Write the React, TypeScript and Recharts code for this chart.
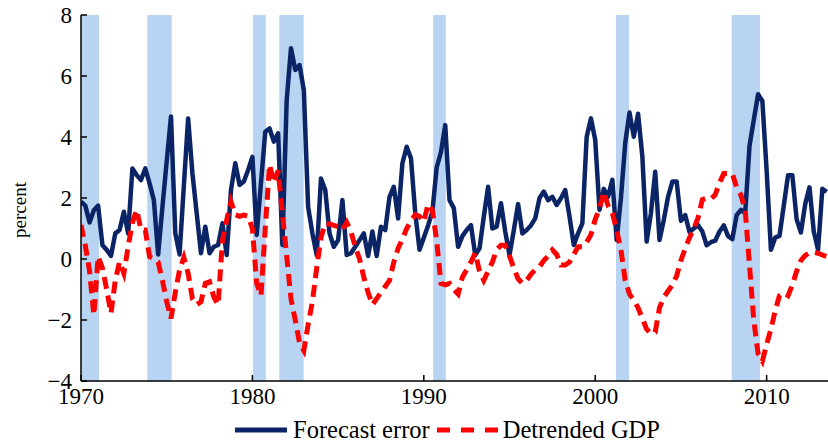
import React from 'react';
import { ComposedChart, Line, XAxis, YAxis, ReferenceArea, Legend } from 'recharts';

const startYear = 1970;

// Quarterly values, 1970Q1 .. 2013Q3
const forecastError = [
  1.88, 1.75, 1.2, 1.6,
  1.75, 0.45, 0.3, 0.1,
  0.84, 0.95, 1.55, 0.84,
  2.97, 2.75, 2.59, 2.97,
  2.48, 1.93, 0.15, 1.7,
  3.2, 4.67, 0.85, 0.15,
  2.4, 4.61, 2.81, 1.5,
  0.19, 1.06, 0.19, 0.4,
  0.46, 1.17, 0.13, 2.26,
  3.14, 2.43, 2.54, 2.92,
  3.35, 0.79, 2.5, 4.17,
  4.28, 3.85, 4.12, 0.46,
  5.21, 6.91, 6.2, 6.36,
  5.54, 1.71, 0.84, 0.13,
  2.64, 2.26, 0.84, 0.4,
  0.62, 1.93, 0.13, 0.19,
  0.4, 0.62, 0.84, 0.1,
  0.9, 0.1, 1.06, 0.95,
  2.04, 2.37, 1.33, 3.14,
  3.68, 3.3, 1.5, 0.3,
  0.7, 1.1, 1.55, 3.0,
  3.5, 4.39, 1.93, 1.67,
  0.4, 0.75, 0.95, 1.11,
  0.13, 0.35, 1.39, 2.37,
  1.0, 1.06, 1.83, 0.9,
  0.13, 0.95, 1.8, 0.84,
  0.95, 1.1, 1.33, 2.0,
  2.21, 1.93, 2.04, 1.77,
  1.99, 2.26, 1.39, 0.46,
  0.84, 1.17, 4.0, 4.61,
  3.9, 1.61, 2.3, 2.04,
  2.6, 0.62, 2.0, 3.8,
  4.8, 4.01, 4.76, 3.36,
  0.57, 1.5, 2.86, 0.62,
  1.28, 2.04, 2.54, 2.54,
  1.25, 1.44, 0.89, 1.0,
  1.11, 0.9, 0.45, 0.55,
  0.6, 0.9, 1.1, 0.75,
  0.65, 1.44, 1.61, 1.5,
  3.7, 4.56, 5.4, 5.18,
  2.9, 0.3, 0.7, 0.76,
  1.75, 2.75, 2.75, 1.3,
  0.87, 1.8, 2.35, 0.9,
  0.3, 2.3, 2.2,
];

const detrendedGDP = [
  1.11, 0.45, -0.4, -1.84,
  0.08, -0.3, -1.0, -1.78,
  -0.7, -0.09, -0.47, 0.4,
  1.2, 1.61, 0.95, 0.95,
  0.08, 0.0, -0.1, -0.7,
  -1.4, -1.95, -1.1, -0.36,
  0.05, -0.47, -1.3, -1.5,
  -1.4, -0.8, -0.75, -1.25,
  -1.5, 0.6, 1.28, 1.88,
  1.45, 1.4, 1.44, 1.4,
  1.0, -0.8, -1.2, 1.0,
  3.1, 2.5, 2.9, 1.5,
  0.1, -1.3, -2.0, -2.75,
  -3.0, -2.15, -1.4, -0.3,
  0.7, 1.17, 1.15, 1.1,
  1.06, 0.95, 1.2, 0.9,
  0.4, 0.0, -0.6, -1.1,
  -1.5, -1.3, -1.1, -0.9,
  -0.7, -0.1, 0.35, 0.65,
  1.0, 1.25, 1.45, 1.4,
  1.22, 1.8, 1.6, 0.6,
  -0.8, -0.85, -0.8, -1.0,
  -1.15, -0.6, -0.35, -0.1,
  0.2, -0.4, -0.7, -0.4,
  -0.1, 0.3, 0.45, 0.45,
  0.1, -0.3, -0.65, -0.8,
  -0.7, -0.5, -0.35, -0.25,
  -0.05, 0.1, 0.3, 0.15,
  -0.2, -0.2, -0.1, 0.15,
  0.4, 0.4, 0.55, 0.8,
  1.3, 1.65, 2.2, 1.75,
  1.5, 0.95, 0.3, -0.7,
  -1.15, -1.35, -1.6, -1.95,
  -2.3, -2.45, -2.4, -1.6,
  -1.25, -1.05, -0.85, -0.55,
  -0.05, 0.35, 0.7, 1.0,
  1.35, 1.95, 2.0, 1.97,
  2.1, 2.5, 2.8, 2.8,
  2.8, 2.35, 2.1, 1.6,
  -0.2, -2.0, -3.1, -3.35,
  -2.8, -2.3, -1.7, -1.2,
  -1.1, -1.2, -0.85, -0.4,
  -0.05, 0.12, 0.2, 0.22,
  0.19, 0.13, 0.08,
];

const xTicks = [1970, 1980, 1990, 2000, 2010];
const yTicks = [-4, -2, 0, 2, 4, 6, 8];
const recessionStarts = [1970, 1973.87, 1980.03, 1981.57, 1990.55, 2001.21, 2007.96];
const recessionEnds = [1971.05, 1975.29, 1980.78, 1982.99, 1991.28, 2001.97, 2009.61];

const NAVY = '#0b2466';
const RED = '#ff0000';
const BAND = '#b9d3f3';
const FONT = '"Liberation Serif", "Times New Roman", serif';

const data = forecastError.map((v, i) => ({
  t: startYear + i / 4,
  fe: v,
  gdp: detrendedGDP[i],
}));

const fmtY = (v: number) => (v < 0 ? '\u2212' + Math.abs(v) : String(v));

const renderLegend = () => (
  <div
    style={{
      height: 28,
      display: 'flex',
      alignItems: 'center',
      paddingLeft: 235,
      fontFamily: FONT,
      fontSize: 24.5,
      color: '#000',
      whiteSpace: 'nowrap',
    }}
  >
    <svg width={52} height={10} style={{ display: 'block' }}>
      <line x1={0} y1={5} x2={52} y2={5} stroke={NAVY} strokeWidth={5} />
    </svg>
    <span style={{ marginLeft: 6 }}>Forecast error</span>
    <svg width={61} height={10} style={{ display: 'block', marginLeft: 7 }}>
      <line x1={0} y1={5} x2={61} y2={5} stroke={RED} strokeWidth={5} strokeDasharray="13 11" />
    </svg>
    <span style={{ marginLeft: 5 }}>Detrended GDP</span>
  </div>
);

const axisStyle = { stroke: '#000', strokeWidth: 1.5 };
const tickFont = { fill: '#000', fontSize: 23, fontFamily: FONT };

export default function App() {
  return (
    <div
      style={{
        position: 'absolute',
        left: 0,
        top: 0,
        width: 828,
        height: 444,
        background: '#fff',
        fontFamily: FONT,
      }}
    >
      <ComposedChart
        width={828}
        height={444}
        data={data}
        margin={{ top: 15, right: 0, bottom: 0, left: 0 }}
      >
        {recessionStarts.map((s, i) => (
          <ReferenceArea
            key={'r' + i}
            x1={s}
            x2={recessionEnds[i]}
            y1={-4}
            y2={8}
            fill={BAND}
            fillOpacity={1}
            stroke="none"
            ifOverflow="hidden"
          />
        ))}
        <XAxis
          type="number"
          dataKey="t"
          domain={[1970, 2013.58]}
          ticks={xTicks}
          allowDataOverflow
          height={35}
          tickSize={-6}
          tickMargin={13}
          axisLine={axisStyle}
          tickLine={axisStyle}
          tick={tickFont}
        />
        <XAxis
          xAxisId="top"
          orientation="top"
          type="number"
          dataKey="t"
          domain={[1970, 2013.58]}
          ticks={xTicks}
          allowDataOverflow
          height={0}
          tickSize={-6}
          axisLine={axisStyle}
          tickLine={axisStyle}
          tick={false}
        />
        <YAxis
          type="number"
          domain={[-4, 8]}
          ticks={yTicks}
          allowDataOverflow
          width={81}
          tickSize={-6}
          tickMargin={15}
          axisLine={axisStyle}
          tickLine={axisStyle}
          tick={tickFont}
          tickFormatter={fmtY}
          label={{
            content: () => (
              <text
                x={26}
                y={210}
                transform="rotate(-90 26 210)"
                textAnchor="middle"
                fontFamily={FONT}
                fontSize={19}
                fill="#000"
              >
                percent
              </text>
            ),
          }}
        />
        <Line
          type="linear"
          dataKey="fe"
          name="Forecast error"
          stroke={NAVY}
          strokeWidth={4.5}
          strokeLinejoin="round"
          dot={false}
          activeDot={false}
          isAnimationActive={false}
        />
        <Line
          type="linear"
          dataKey="gdp"
          name="Detrended GDP"
          stroke={RED}
          strokeWidth={5}
          strokeDasharray="12 7"
          dot={false}
          activeDot={false}
          isAnimationActive={false}
        />
        <Legend verticalAlign="bottom" align="left" content={renderLegend} />
      </ComposedChart>
    </div>
  );
}
